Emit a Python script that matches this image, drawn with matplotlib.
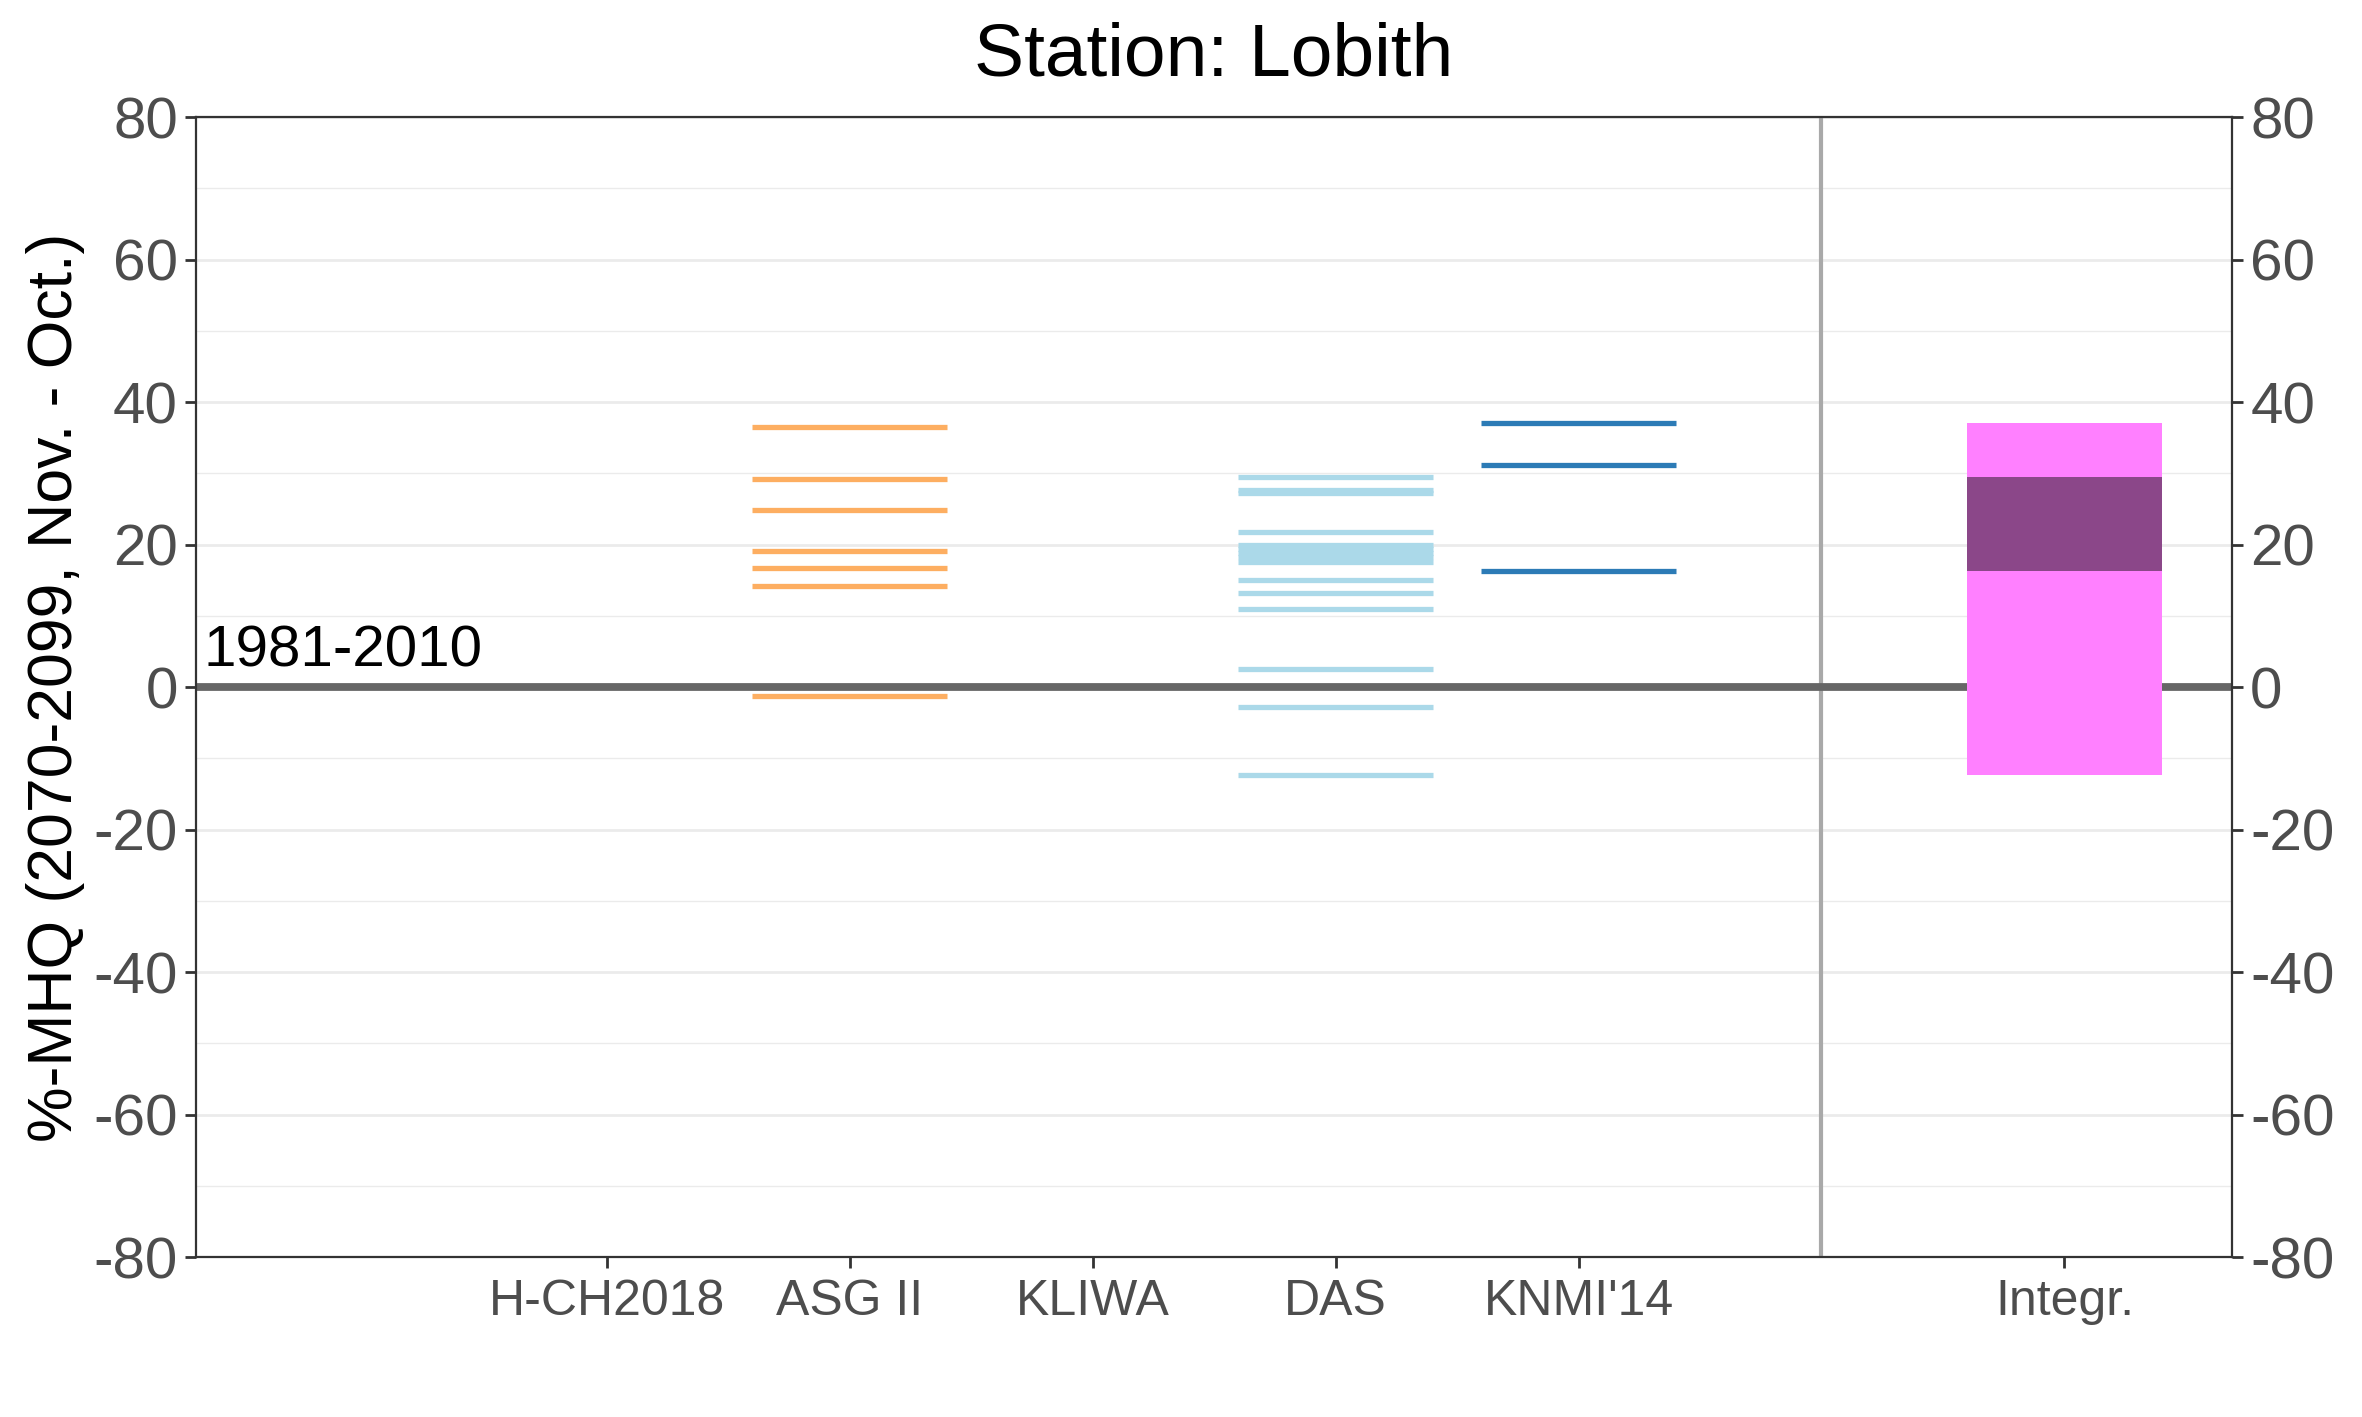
import matplotlib.pyplot as plt

plt.rcParams['font.family'] = ['Liberation Sans', 'DejaVu Sans']

# model categories on the x axis (positions 1..5), integrated range at 7
models = ["H-CH2018", "ASG II", "KLIWA", "DAS", "KNMI'14"]
integrLabel = "Integr."

# %-change of MHQ per model run
asgValues = [36.5, 29.2, 24.8, 19.1, 16.7, 14.2, -1.2]
dasValues = [29.5, 27.7, 27.3, 21.7, 19.9, 19.4, 18.8, 18.2, 17.6, 15.0, 13.2, 10.9, 2.6, -2.8, -12.3]
knmiValues = [37.1, 31.2, 16.3]
integrRange = [-12.3, 37.1]
integrCore = [16.3, 29.5]

fig = plt.figure(figsize=(11.81, 7.085), dpi=200)
ax = fig.add_axes([0.083, 0.1129, 0.862, 0.8045])

# grid
for y in range(-80, 81, 20):
    ax.axhline(y, color="#EBEBEB", lw=1.0, zorder=0)
for y in range(-70, 80, 20):
    ax.axhline(y, color="#EBEBEB", lw=0.5, zorder=0)

ax.axhline(0, color="#666666", lw=2.8, zorder=2)
ax.axvline(6, color="#A9A9A9", lw=1.5, zorder=1)

halfWidth = 0.4
ax.hlines(asgValues, 2 - halfWidth, 2 + halfWidth, color="#FDAE61", lw=1.9, zorder=3)
ax.hlines(dasValues, 4 - halfWidth, 4 + halfWidth, color="#ABD9E9", lw=1.9, zorder=3)
ax.hlines(knmiValues, 5 - halfWidth, 5 + halfWidth, color="#2C7BB6", lw=1.9, zorder=3)

ax.bar(7, integrRange[1] - integrRange[0], bottom=integrRange[0], width=0.8,
       color="#FF80FF", zorder=4)
ax.bar(7, integrCore[1] - integrCore[0], bottom=integrCore[0], width=0.8,
       color="#8B4789", zorder=5)

ax.text(-0.66, 1.2, "1981-2010", fontsize=21, color="black", va="bottom", ha="left", zorder=6)

ax.set_xlim(-0.69, 7.69)
ax.set_ylim(-80, 80)
ax.set_xticks([1, 2, 3, 4, 5, 7])
ax.set_xticklabels(models + [integrLabel])
ax.set_yticks(range(-80, 81, 20))
ax.set_yticklabels([str(v) for v in range(-80, 81, 20)])

ax.tick_params(axis="x", labelsize=18, colors="#333333", labelcolor="#4D4D4D",
               length=4, width=1.0, pad=4)
ax.tick_params(axis="y", labelsize=21, colors="#333333", labelcolor="#4D4D4D",
               length=4, width=1.0, pad=2.5, right=True, labelright=True)

for s in ax.spines.values():
    s.set_color("#333333")
    s.set_linewidth(0.8)

ax.set_ylabel("%-MHQ (2070-2099, Nov. - Oct.)", fontsize=22.5, color="black", labelpad=3)
ax.set_title("Station: Lobith", fontsize=27, color="black", pad=15)

fig.savefig("out.png", dpi=200, facecolor="white")
